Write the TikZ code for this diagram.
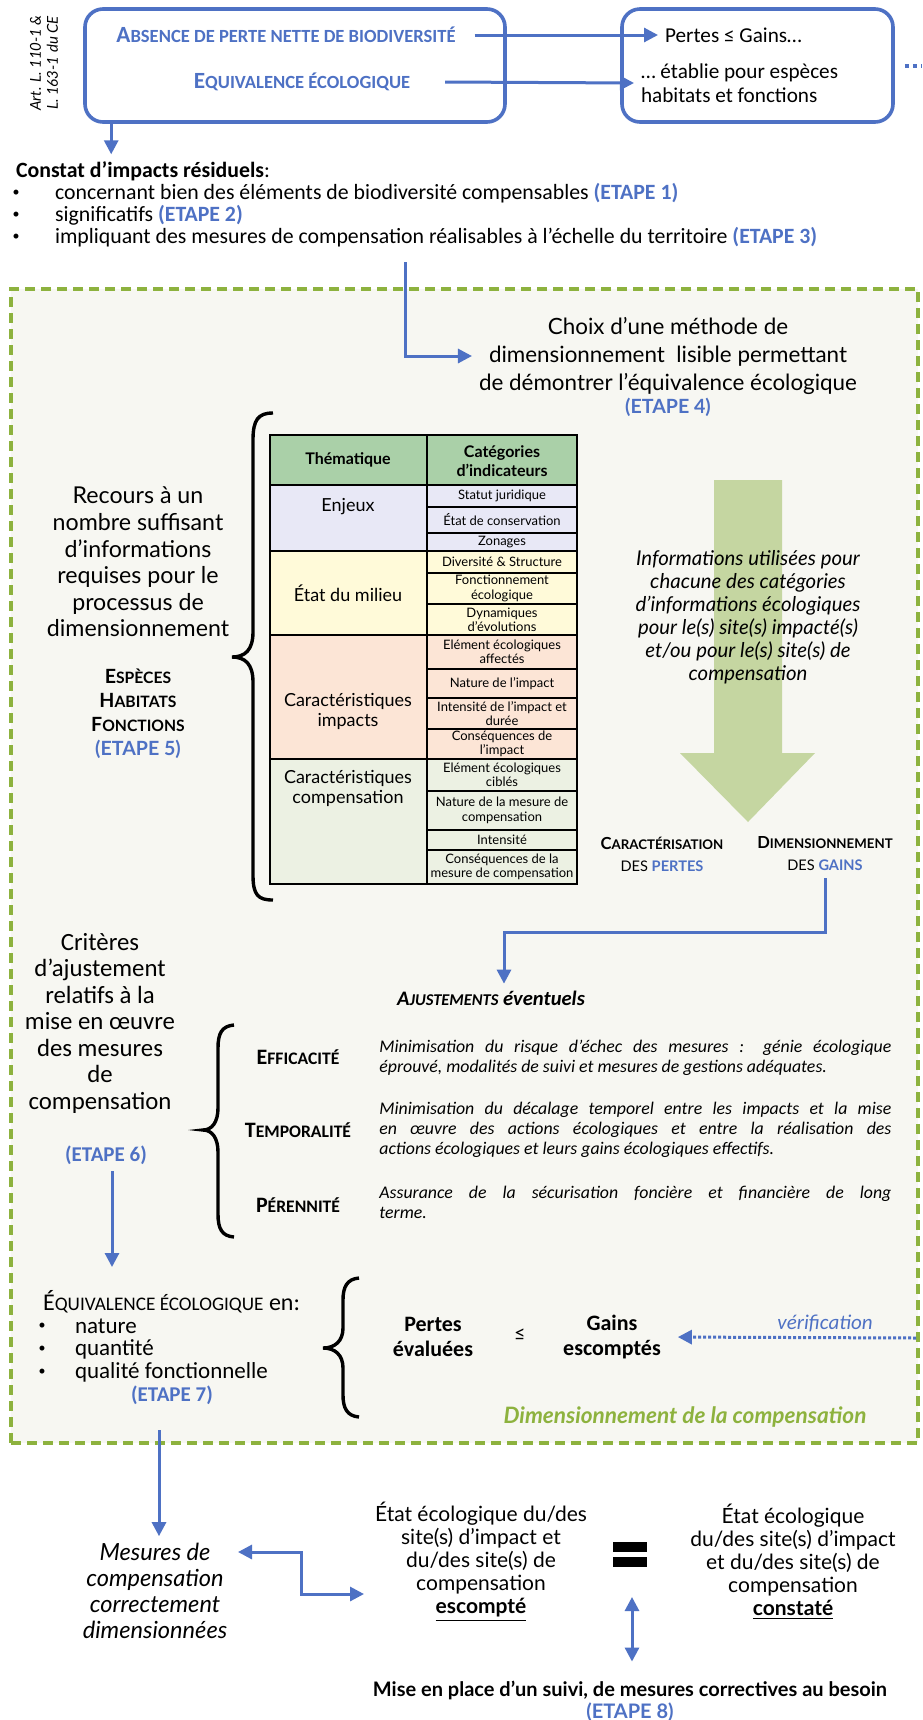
\documentclass[tikz,border=0pt]{standalone}
\usepackage{fontspec}
\setmainfont{Lato}
\newfontfamily\calib{Carlito}
\usepackage{tikz}
\usetikzlibrary{arrows.meta}

\definecolor{bleu}{RGB}{78,113,196}
\definecolor{vert}{RGB}{141,178,62}
\definecolor{fond}{RGB}{247,247,242}
\definecolor{flechevert}{RGB}{197,214,161}
\definecolor{entete}{RGB}{170,208,168}
\definecolor{enjeux}{RGB}{232,232,246}
\definecolor{milieu}{RGB}{255,250,217}
\definecolor{impact}{RGB}{252,229,214}
\definecolor{compens}{RGB}{236,241,227}

\newcommand\fs[2]{\fontsize{#1}{#2}\selectfont}
\makeatletter
\newcommand\sca[2]{#1{\fontsize{\fpeval{0.8*\f@size}}{\f@baselineskip}\selectfont#2}}
\makeatother
\newcommand\etape[1]{\textcolor{bleu}{\bfseries #1}}

\tikzset{
  cadrebleu/.style={draw=bleu, line width=1.8pt, rounded corners=9pt, fill=white},
  texbleu/.style={text=bleu},
  fleche/.style={draw=bleu, line width=1.5pt, -{Triangle[length=7pt,width=7pt]}},
  flechedouble/.style={draw=bleu, line width=1.5pt, {Triangle[length=7pt,width=7pt]}-{Triangle[length=7pt,width=7pt]}},
  flechepoint/.style={draw=bleu, line width=1.5pt, dash pattern=on 1.5pt off 1pt, -{Triangle[length=7pt,width=7pt]}},
  pointille/.style={draw=bleu, line width=2pt, dash pattern=on 2pt off 2pt},
  cadrevert/.style={draw=vert, line width=2pt, dash pattern=on 5pt off 3pt, fill=fond},
  accolade/.style={draw=black, line width=1.7pt},
  cellule/.style={draw=black, line width=0.7pt},
  theme/.style={align=center, font=\fs{9}{10}},
  indic/.style={align=center, font=\fs{6.5}{7.2}, inner sep=0pt},
  critere/.style={font=\calib\bfseries\fs{11}{12}},
  descr/.style={anchor=west, text width=256pt, align=justify, inner sep=0pt, font=\calib\itshape\fs{8.9}{10}},
  bilan/.style={align=center, font=\calib\bfseries\fs{11}{12.5}},
  etat/.style={align=center, font=\fs{10.5}{11.5}},
  puce/.style={font=\calib\fs{7}{8}},
}

\begin{document}
\begin{tikzpicture}[x=0.5pt, y=-0.5pt]
\useasboundingbox (0,0) rectangle (922,1720);
\fill[white] (0,0) rectangle (922,1720);

% en-tete
\node[rotate=90, align=center, font=\itshape\fs{7.5}{8.5}] (art) at (44,63) {Art. L. 110-1 \&\\L. 163-1 du CE};
\node[cadrebleu, minimum width=210pt, minimum height=56.5pt] (box1) at (295,65.5) {};
\node[texbleu, font=\calib\bfseries\fs{11.6}{13}] (absence) at (286,35) {\sca{A}{BSENCE DE PERTE NETTE DE BIODIVERSITÉ}};
\node[texbleu, font=\calib\bfseries\fs{11.6}{13}] (equiv) at (302,82) {\sca{E}{QUIVALENCE ÉCOLOGIQUE}};
\node[cadrebleu, minimum width=135.5pt, minimum height=56.5pt] (box2) at (757.5,65.5) {};
\node[anchor=west, font=\calib\fs{10.6}{12}] (pertes) at (658,35) {Pertes ≤ Gains…};
\node[anchor=west, align=left, font=\calib\fs{10.6}{12}] (etablie) at (634,83) {… établie pour espèces\\habitats et fonctions};
\draw[fleche] ([xshift=6pt]absence.east) -- (pertes.west);
\draw[fleche] ([xshift=14pt]equiv.east) -- (etablie.west);
\coordinate (suite) at (921,65.5);
\draw[pointille] ([xshift=5pt]box2.east) -- (suite);

\node[anchor=west, font=\calib\fs{10.9}{12}] (constat) at (9,171) {\textbf{Constat d’impacts résiduels}:};
\coordinate (c1) at ([xshift=14pt]box1.south west);
\draw[fleche] (c1) -- (c1 |- constat.north);
\foreach \y/\txt [count=\i] in {193/{concernant bien des éléments de biodiversité compensables \etape{(ETAPE 1)}},
    215/{significatifs \etape{(ETAPE 2)}},
    237/{impliquant des mesures de compensation réalisables à l’échelle du territoire \etape{(ETAPE 3)}}}{
  \node[puce] (puce\i) at (16,\y) {•};
  \node[anchor=west, font=\calib\fs{10.9}{12}] (residu\i) at (48,\y) {\txt};
}

% cadre de dimensionnement
\node[cadrevert, minimum width=453.5pt, minimum height=577pt] (cadre) at (464.5,866) {};
\node[align=center, font=\fs{11.2}{14}] (choix) at (668,356) {Choix d’une méthode de\\dimensionnement\ \ lisible permettant\\de démontrer l’équivalence écologique};
\node[font=\bfseries\fs{9.8}{11}, text=bleu] (etape4) at (668,407) {(ETAPE 4)};
\coordinate (k0) at (405,262);
\draw[fleche] (k0) |- (choix.west);

\node[align=center, font=\fs{11.6}{13.3}] (recours) at (138,562) {Recours à un\\nombre suffisant\\d’informations\\requises pour le\\processus de\\dimensionnement};
\node[align=center, font=\bfseries\fs{9.8}{12}] (especes) at (138,714) {\sca{E}{SPÈCES}\\\sca{H}{ABITATS}\\\sca{F}{ONCTIONS}\\\textcolor{bleu}{(ETAPE 5)}};
\draw[accolade] (273,413) .. controls (258,413) and (253,420) .. (253,440) -- (253,632) .. controls (253,650) and (245,657) .. (232,657) .. controls (245,657) and (253,664) .. (253,682) -- (253,875) .. controls (253,895) and (258,900) .. (273,900);

% tableau
\foreach \ya/\yb/\coul in {435/485/entete, 485/551/enjeux, 551/635/milieu, 635/759/impact, 759/884/compens}
  \filldraw[cellule, fill=\coul] (270,\ya) rectangle (427,\yb);
\filldraw[cellule, fill=entete] (427,435) rectangle (577,485);
\foreach \ya/\yb/\coul/\txt [count=\i] in {
    485/507/enjeux/{Statut juridique},
    507/533/enjeux/{État de conservation},
    533/551/enjeux/{Zonages},
    551/573/milieu/{Diversité \& Structure},
    573/604/milieu/{Fonctionnement\\écologique},
    604/635/milieu/{Dynamiques\\d’évolutions},
    635/669/impact/{Elément écologiques\\affectés},
    669/698/impact/{Nature de l’impact},
    698/729/impact/{Intensité de l’impact et\\durée},
    729/759/impact/{Conséquences de\\l’impact},
    759/791/compens/{Elément écologiques\\ciblés},
    791/830/compens/{Nature de la mesure de\\compensation},
    830/850/compens/{Intensité},
    850/884/compens/{Conséquences de la\\mesure de compensation}}{
  \filldraw[cellule, fill=\coul] (427,\ya) rectangle (577,\yb);
  \node[indic] (indic\i) at (502,{(\ya+\yb)/2}) {\txt};
}
\draw[line width=1.1pt] (270,435) rectangle (577,884);
\node[theme, font=\bfseries\fs{8}{9}] (thematique) at (348,460) {Thématique};
\node[theme, font=\bfseries\fs{8}{9.2}] (categories) at (502,461) {Catégories\\d’indicateurs};
\node[theme] (thenjeux) at (348,507) {Enjeux};
\node[theme] (thmilieu) at (348,593) {État du milieu};
\node[theme] (thimpact) at (348,711) {Caractéristiques\\impacts};
\node[theme] (thcompens) at (348,788) {Caractéristiques\\compensation};

\fill[flechevert] (714,480) -- (782,480) -- (782,753) -- (815,753) -- (748,822) -- (680,753) -- (714,753) -- cycle;
\node[align=center, font=\itshape\fs{10.2}{11.5}] (infos) at (748,617) {Informations utilisées pour\\chacune des catégories\\d’informations écologiques\\pour le(s) site(s) impacté(s)\\et/ou pour le(s) site(s) de\\compensation};
\node[align=center, font=\bfseries\fs{8.3}{11}] (pertesdef) at (662,854) {\sca{C}{ARACTÉRISATION}\\{\mdseries\fs{7.3}{11}DES \textcolor{bleu}{\bfseries PERTES}}};
\node[align=center, font=\bfseries\fs{8.3}{11}] (gainsdef) at (825,854) {\sca{D}{IMENSIONNEMENT}\\{\mdseries\fs{7.3}{11}DES \textcolor{bleu}{\bfseries GAINS}}};

% ajustements
\node[anchor=west, font=\calib\bfseries\itshape\fs{10.3}{12}] (ajust) at (390,998) {\sca{A}{JUSTEMENTS} éventuels};
\coordinate (coude) at (504,932);
\draw[fleche] (gainsdef.south) |- (coude) -- (coude |- ajust.north);
\node[align=center, font=\calib\fs{12.4}{13.25}] (criteres) at (100,1023) {Critères\\d’ajustement\\relatifs à la\\mise en œuvre\\des mesures\\de\\compensation};
\node[font=\calib\bfseries\fs{10.5}{12}, text=bleu] (etape6) at (106,1155) {(ETAPE 6)};
\draw[accolade] (234,1025) .. controls (222,1026) and (218,1033) .. (218,1048) -- (218,1108) .. controls (218,1122) and (212,1130) .. (203,1130) .. controls (212,1130) and (218,1138) .. (218,1152) -- (218,1214) .. controls (218,1229) and (222,1236) .. (234,1237);
\node[critere] (efficacite) at (298,1057) {\sca{E}{FFICACITÉ}};
\node[critere] (temporalite) at (298,1130) {\sca{T}{EMPORALITÉ}};
\node[critere] (perennite) at (298,1205) {\sca{P}{ÉRENNITÉ}};
\node[descr] (descr1) at (379,1058) {Minimisation du risque d’échec des mesures : génie écologique\linebreak éprouvé, modalités de suivi et mesures de gestions adéquates.};
\node[descr] (descr2) at (379,1130) {Minimisation du décalage temporel entre les impacts et la mise\linebreak en œuvre des actions écologiques et entre la réalisation des\linebreak actions écologiques et leurs gains écologiques effectifs.};
\node[descr] (descr3) at (379,1202) {Assurance de la sécurisation foncière et financière de long\linebreak terme.};

% equivalence
\coordinate (f6) at (112,1267);
\draw[fleche] (etape6.south -| f6) -- (f6);
\node[anchor=west, font=\calib\fs{12}{13}] (eqtitre) at (36,1302) {\sca{É}{QUIVALENCE ÉCOLOGIQUE} en:};
\foreach \y/\txt [count=\i] in {1326/nature, 1349/quantité, 1372/qualité fonctionnelle}{
  \node[puce] (eqpuce\i) at (42,\y) {•};
  \node[anchor=west, font=\calib\fs{11.5}{12}] (eqcrit\i) at (68,\y) {\txt};
}
\node[font=\calib\bfseries\fs{10.5}{12}, text=bleu] (etape7) at (172,1395) {(ETAPE 7)};
\draw[accolade] (359,1278) .. controls (347,1279) and (343,1287) .. (343,1300) -- (343,1328) .. controls (343,1341) and (335,1348) .. (323,1348) .. controls (335,1348) and (343,1355) .. (343,1368) -- (343,1395) .. controls (343,1408) and (347,1416) .. (359,1417);
\node[bilan] (pertesev) at (433,1337) {Pertes\\évaluées};
\node[font=\calib\fs{10.5}{12}] (inf) at (520,1335) {≤};
\node[bilan] (gainsesc) at (612,1337) {Gains\\escomptés};
\node[font=\calib\itshape\fs{10.5}{12}, text=bleu] (verif) at (825,1323) {vérification};
\coordinate (v0) at (916,1338);
\draw[flechepoint, shorten >=5pt] (v0) -- (gainsesc.east);
\node[font=\bfseries\itshape\fs{11.3}{13}, text=vert] (dimcomp) at (685,1417) {Dimensionnement de la compensation};

% suivi
\coordinate (m0) at (159,1430);
\node[align=center, font=\itshape\fs{11.8}{13}] (mesures) at (155,1591) {Mesures de\\compensation\\correctement\\dimensionnées};
\draw[fleche] (m0) -- (m0 |- mesures.north);
\node[etat] (etatesc) at (481,1562) {État écologique du/des\\site(s) d’impact et\\du/des site(s) de\\compensation\\\textbf{\underline{escompté}}};
\coordinate (g1) at (238,1552);
\coordinate (g2) at (364,1594);
\draw[flechedouble] (g1) -| (301,1573) |- (g2);
\fill (613,1542) rectangle (647,1552);
\fill (613,1557) rectangle (647,1567);
\node[etat] (etatcons) at (793,1562) {État écologique\\du/des site(s) d’impact\\et du/des site(s) de\\compensation\\\textbf{\underline{constaté}}};
\node[font=\bfseries\fs{10}{11}] (suivi) at (630,1690) {Mise en place d’un suivi, de mesures correctives au besoin};
\node[font=\bfseries\fs{10}{11}, text=bleu] (etape8) at (630,1712) {(ETAPE 8)};
\coordinate (s0) at (632,1597);
\draw[flechedouble, shorten >=6pt] (s0) -- (s0 |- suivi.north);
\end{tikzpicture}
\end{document}
